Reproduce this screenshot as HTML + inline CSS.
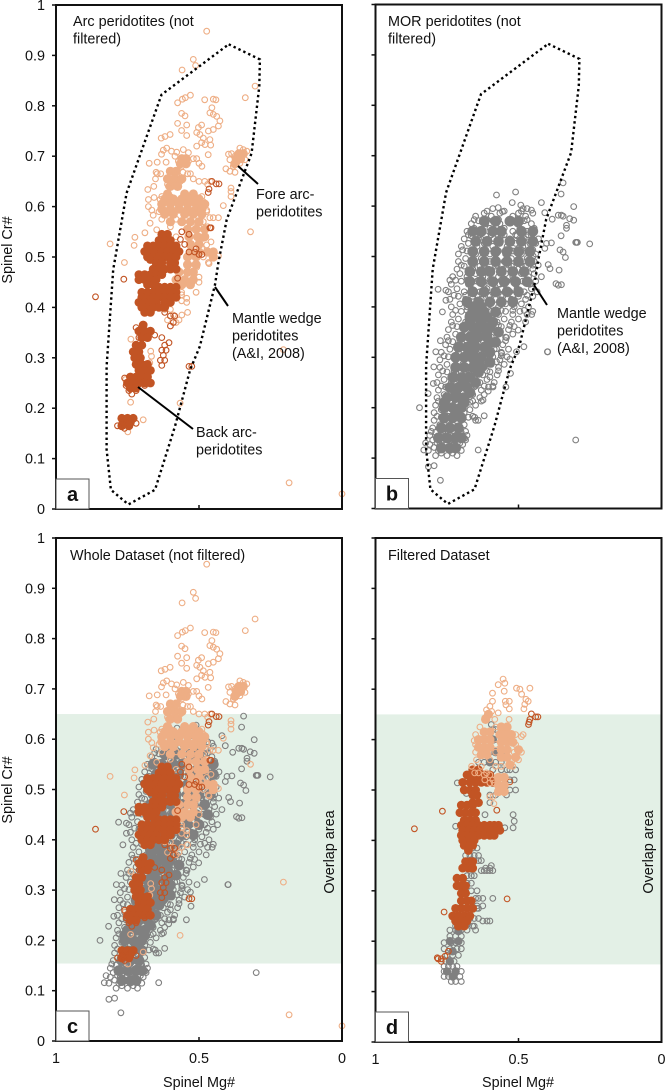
<!DOCTYPE html>
<html lang="en">
<head>
<meta charset="utf-8">
<title>Spinel Cr# vs Mg# peridotite panels</title>
<style>
html,body{margin:0;padding:0;background:#fff;}
svg{display:block;font-family:"Liberation Sans",Arial,sans-serif;font-size:14.4px;fill:#111;}
</style>
</head>
<body>
<svg id="chart" xmlns="http://www.w3.org/2000/svg" width="665" height="1090" viewBox="0 0 665 1090"></svg>
<script>
// Every row below: first number is Cr#, the remaining numbers are Mg# values read at that Cr#.
const arcLightRings=[
[.948,.473],[.892,.52],[.88,.512],[.871,.559],[.839,.304],[.816,.338,.548],[.821,.53],[.813,.558,.45],[.806,.575],[.812,.48,.441],
[.796,.455],[.786,.462],[.783,.45],[.779,.438],[.77,.427],[.76,.432],[.753,.45],[.75,.467],[.785,.561],[.78,.549],[.765,.575],[.762,.543,.491],[.751,.561],[.741,.543],
[.757,.502],[.747,.508],[.743,.497,.601],[.736,.485,.632],[.733,.462],[.72,.508],[.727,.491],[.723,.479],[.722,.459],[.739,.619],[.716,.613],[.712,.625],[.704,.631],
[.71,.596],[.708,.578],[.713,.555],[.707,.537],[.686,.674],[.688,.646,.615],[.7,.584],[.69,.572,.561,.55,.537],[.695,.549,.52,.508],[.68,.561,.49],[.686,.55,.5],
[.704,.397],[.705,.386],[.716,.357],[.713,.345],[.71,.333],[.706,.362],[.7,.374],[.693,.339,.351,.392],[.687,.368],[.68,.38],[.686,.357],[.675,.406],[.67,.392],[.668,.374],
[.703,.468],[.665,.646,.634,.6,.578,.54,.53],[.668,.65,.59,.556],[.655,.652,.575,.52],[.64,.658,.607],[.634,.679],[.65,.595,.565,.5,.48,.46],[.644,.61,.595,.47],[.637,.388],[.63,.388],[.62,.388],
[.614,.677,.636],[.618,.657],[.6,.677,.485],[.61,.485],[.593,.665,.473],[.602,.415],[.583,.66],[.578,.462,.45,.432],[.59,.473],[.567,.671],[.57,.485],[.557,.497],[.554,.648],[.548,.689],[.55,.32],
[.526,.811],[.539,.724],[.523,.727],[.489,.761,.467],[.53,.458],[.502,.432],[.537,.485],[.524,.473],[.517,.491],[.507,.462],[.5,.485],[.48,.508],[.487,.465],
[.62,.63,.6,.52,.49],[.59,.64,.59,.55,.5],[.575,.63,.58,.52],[.56,.6,.52,.47],[.54,.58,.5],[.46,.5,.53],[.45,.5,.56,.54],
[.447,.537],[.43,.561,.59,.51],[.425,.561],[.418,.543],[.413,.561],[.41,.543],[.396,.62,.6],[.385,.59,.56],[.375,.61,.57],[.39,.54],[.37,.58],
[.337,.738],[.316,.205],[.313,.669],[.303,.666],[.29,.672],[.257,.757],[.212,.739],[.21,.566],[.177,.695],[.153,.749],[.052,.185],[.03,.0]];
const arcLightDense=[
[.695,.56,.545],[.685,.565,.545],[.67,.6,.58],[.655,.61,.585,.56],[.64,.6,.575],[.625,.61,.55,.52],[.615,.62,.59,.56,.53,.5],[.605,.63,.6,.57,.54,.51,.48],[.595,.63,.6,.57,.54,.51,.49],[.585,.62,.59,.55,.52,.49],[.57,.6,.56,.53,.5],
[.555,.54,.51,.48],[.54,.535,.505,.48],[.525,.53,.5],[.51,.53,.5,.47,.45],[.5,.54,.51,.45],[.485,.54,.51],[.47,.57,.54,.52],[.455,.58,.55,.52],[.445,.56,.53],[.705,.36,.345],[.695,.37,.355],[.685,.375]];
const arcDarkRings=[
[.65,.455],[.645,.44,.43],[.635,.465],[.628,.468],[.558,.462,.458],[.55,.56],[.545,.535],[.535,.565],[.525,.55],[.51,.535,.515],[.505,.5,.49],[.516,.51],
[.456,.763],[.421,.862],[.458,.575],[.39,.62],[.383,.6,.585],[.37,.59],[.363,.6],[.345,.655],[.34,.63],[.33,.605],[.325,.62],[.315,.615,.63],[.305,.625],[.295,.62,.635],[.285,.63],[.283,.535,.525],
[.36,.72],[.34,.71],[.26,.76],[.245,.755,.69],[.235,.745,.72],[.228,.735],[.18,.755,.73],[.17,.77,.72],[.165,.785,.765],[.175,.74],[.16,.76]];
const arcDarkDense=[
[.545,.63,.61],[.533,.64,.62,.6],[.522,.68,.66,.64,.62,.6,.58],[.511,.69,.67,.65,.63,.61,.59,.57],[.5,.68,.66,.64,.62,.6,.58],[.495,.67,.645],[.488,.65,.63,.6,.585],[.476,.66,.64,.62,.6,.58],
[.465,.71,.69,.67,.65,.63],[.455,.71,.69,.67,.65],[.445,.68,.66],[.44,.64,.62,.6,.58],[.43,.7,.68,.66,.64,.62,.6,.58],[.42,.7,.68,.66,.64,.62,.6,.58],[.41,.71,.69,.67,.65,.62,.6],[.4,.7,.68,.66,.64,.62],[.39,.69,.67],
[.365,.695],[.353,.71,.69,.67],[.34,.7,.68],[.325,.72,.7],[.312,.73,.71],[.3,.725,.705],[.287,.72,.7,.68],[.275,.71,.69,.67],[.262,.74,.72,.7,.68],[.25,.75,.73,.71,.69,.67],[.24,.74,.72],[.18,.77,.75,.73],[.172,.76,.74],[.165,.77,.745]];
const morGreyRings=[
[.136,.3],[.056,.773],[.116,.641],[.085,.795],[.083,.815],[.116,.831],[.2,.846],[.228,.816],[.248,.798],[.281,.796],[.311,.789],[.333,.773],[.39,.766],[.413,.754],[.435,.781],[.433,.754],[.453,.74],
[.622,.577],[.628,.51],[.607,.522,.42],[.597,.571],[.589,.556],[.602,.492],[.595,.484],[.592,.455],[.587,.408],[.646,.344],[.624,.351],[.599,.307],[.582,.361,.35],[.58,.344],[.574,.382],[.575,.321],[.572,.307],[.562,.332],[.556,.332],[.541,.351],[.528,.297,.3,.294],[.525,.251],[.513,.355],[.509,.344],[.498,.336],[.527,.385],[.526,.402],[.516,.408],[.484,.396],[.476,.39],[.473,.358],[.446,.369],[.443,.361],[.444,.35],[.46,.42],[.483,.431],[.501,.449],
[.311,.399,.398],[.321,.481],[.354,.501],[.385,.454],[.296,.53],[.311,.507],[.268,.528],[.241,.544],[.184,.62],[.181,.653],[.175,.641],[.139,.688],[.233,.606],[.215,.624],[.241,.589],[.261,.6],[.291,.577],[.339,.542],[.308,.559],[.317,.577],
[.105,.79,.75,.715],[.11,.77,.73],[.115,.815,.78,.74,.7],[.121,.795,.76,.72],[.13,.825,.785,.75,.705],[.136,.8,.765,.73,.685],[.145,.81,.77,.72,.68],[.151,.79,.745,.7],[.16,.8,.755,.71],[.166,.775,.73,.69],[.175,.795,.75,.7,.65],[.181,.77,.72,.675],
[.19,.795,.74,.69],[.196,.77,.715,.67],[.205,.79,.745,.695,.65],[.211,.765,.72,.67],[.22,.785,.735,.685,.635],[.226,.76,.71,.66,.62],[.235,.78,.73,.68,.63],[.241,.755,.705,.655,.605],
[.25,.785,.735,.685,.635,.585],[.256,.76,.71,.66,.61],[.265,.78,.725,.675,.625,.575],[.271,.75,.7,.65,.6],[.28,.775,.725,.67,.62,.57],[.286,.75,.695,.645,.595,.55],[.295,.775,.72,.665,.615,.565],[.301,.745,.69,.64,.59,.54],
[.31,.77,.71,.66,.61,.56],[.316,.74,.685,.635,.585,.535],[.325,.755,.705,.655,.605,.555],[.331,.73,.68,.63,.58],[.34,.75,.695,.645,.595,.545],[.346,.72,.67,.62,.57,.52],[.355,.745,.69,.64,.585,.535],[.361,.715,.66,.61,.56,.515],
[.37,.735,.685,.63,.575,.525,.475],[.376,.71,.655,.6,.55,.5],[.385,.73,.675,.62,.57,.52,.47],[.391,.7,.65,.595,.545,.495,.45],[.4,.735,.68,.625,.57,.515,.465],[.406,.705,.65,.6,.545,.49],
[.415,.74,.685,.63,.58,.525,.475],[.421,.71,.66,.605,.555,.5,.45],[.43,.745,.69,.635,.585,.53,.48,.435],[.436,.715,.665,.61,.56,.505,.455],[.445,.735,.675,.62,.565,.51,.46],[.451,.7,.645,.59,.54,.485,.44],
[.46,.73,.68,.625,.57,.52,.465],[.466,.705,.65,.6,.545,.49,.445],[.475,.715,.66,.605,.555,.5,.45],[.481,.69,.635,.58,.525,.475],[.49,.71,.655,.6,.55,.495,.445],[.496,.685,.63,.58,.525,.47],
[.505,.71,.65,.6,.545,.49,.44],[.511,.68,.625,.57,.52,.465],[.52,.7,.645,.59,.54,.485],[.526,.675,.62,.565,.51,.46,.44],[.535,.69,.64,.585,.53,.48,.43],[.541,.665,.615,.56,.505,.455],
[.55,.68,.63,.575,.52,.47],[.556,.655,.6,.55,.495,.445],[.565,.665,.615,.565,.505,.455],[.571,.64,.59,.535,.48],[.58,.65,.595,.52,.475],[.586,.62,.565,.5,.45],[.59,.61,.55,.49],[.595,.59,.47],
[.127,.81,.775,.735,.695],[.153,.805,.765,.725,.685],[.183,.785,.745,.705,.66],[.213,.78,.74,.7,.66,.63],[.243,.77,.73,.69,.65,.62,.59],[.273,.765,.725,.685,.645,.61,.57],[.303,.76,.72,.68,.64,.6,.56],[.333,.745,.705,.665,.625,.585,.545],
[.363,.73,.69,.65,.61,.57,.53],[.393,.72,.68,.64,.6,.56,.52,.48],[.423,.725,.685,.645,.6,.56,.52,.47],[.453,.72,.68,.64,.6,.56,.52,.47],[.483,.7,.66,.62,.575,.535,.49,.45],[.513,.695,.655,.615,.575,.53,.49,.45],[.543,.675,.635,.595,.55,.51,.465],[.573,.655,.61,.57,.525,.47]];
const morGreyDense=[
[.12,.77,.74,.72],[.14,.78,.75,.72,.7],[.16,.77,.74,.71],[.18,.76,.73,.7],[.2,.76,.73,.7],[.22,.75,.72,.69],[.24,.74,.71,.68],[.26,.73,.7,.67],[.28,.72,.69,.66,.63],[.3,.72,.69,.66,.63],
[.32,.71,.68,.65,.62],[.34,.7,.67,.64,.61],[.36,.69,.66,.63,.6],[.38,.67,.64,.61],[.4,.66,.63],[.45,.67,.63,.59,.55],[.47,.67,.63,.6,.56],[.49,.66,.62,.58,.54,.5],[.51,.66,.62,.58,.54,.5],[.53,.65,.61,.57,.53,.49],[.55,.63,.59,.56,.49],
[.43,.66,.62,.58,.54,.5],[.41,.68,.64,.6,.56,.52],[.39,.66,.62,.58],[.37,.67,.63,.59],[.35,.65,.61,.57],[.33,.66,.6,.58],[.31,.66,.6],[.29,.64,.6],[.27,.64],[.25,.69,.65],[.23,.72,.67],[.21,.76,.69],[.19,.72],
[.45,.51,.47],[.47,.52,.48],[.49,.46],[.51,.46],[.53,.45],[.55,.66,.45],[.57,.62,.58,.53,.5]];
const filteredGreyRings=[
[.12,.735,.72,.7],[.13,.76,.745,.725,.705],[.14,.76,.74,.72,.7],[.15,.76,.745,.73,.715],[.16,.755,.74,.725],[.172,.75,.73,.71],[.185,.76,.74,.715,.7],[.197,.76,.735,.72,.7],[.21,.74,.72,.7],
[.222,.74,.72,.7,.68,.65],[.23,.72,.69,.66,.655],[.24,.625,.61,.6],[.245,.695,.67,.655,.64],[.265,.66,.645,.64],[.27,.645,.625],[.285,.65,.64,.625,.59],[.3,.665,.645],[.315,.665,.68],[.33,.665,.68,.655],
[.34,.63,.62,.61,.6,.59],[.345,.615,.6],[.35,.595],[.36,.68,.655,.66,.64,.63],[.37,.685,.67,.655,.64],[.385,.66,.645],
[.63,.595],[.62,.59,.58],[.6,.61,.59,.58],[.575,.6,.58,.56],[.555,.64,.62,.6,.58,.56],[.54,.59,.56,.54,.53],[.52,.53,.515],[.54,.51],[.5,.51,.53],[.49,.6,.58,.542],[.475,.6],
[.451,.519,.617],[.438,.515],[.425,.519,.548],[.428,.72],[.514,.714],[.493,.682]];
const filteredGreyDense=[
[.13,.73],[.14,.75,.72],[.16,.74],[.18,.73],[.2,.74,.71],[.22,.71],[.235,.68],[.36,.665],[.6,.59],[.575,.58],[.555,.6]];
const filteredLightRings=[
[.72,.554],[.709,.571],[.712,.548],[.696,.55],[.692,.591],[.702,.507,.46],[.7,.495],[.69,.489],[.68,.474],[.676,.466,.546,.532,.591],[.661,.481,.532],[.67,.478],[.669,.544],[.653,.571],[.666,.6],[.659,.612],[.656,.594],[.65,.606],[.643,.618],[.64,.583,.533],
[.625,.635,.58],[.61,.484,.65,.51],[.606,.49],[.598,.655,.53],[.59,.65,.58,.51],[.575,.65,.58,.515,.49],[.56,.647,.6,.52,.5],[.547,.664,.63,.58,.56,.52],[.534,.653,.64,.612],[.53,.62,.6],[.52,.618,.59],[.514,.6,.585],[.487,.589,.6],[.473,.586]];
const filteredLightDense=[
[.65,.605],[.64,.615],[.615,.62,.6],[.6,.64,.62,.6],[.585,.64,.62,.6],[.57,.63,.61],[.625,.56,.54],[.61,.565,.545,.525],[.595,.56,.54,.52],[.58,.56,.54,.5],[.565,.56,.54,.51],[.55,.53],[.525,.57,.55],[.51,.57,.55],[.497,.57,.55]];
const filteredDarkRings=[
[.423,.864],[.458,.766],[.284,.54],[.46,.576],[.516,.53],[.651,.455],[.645,.44,.432],[.64,.46],[.635,.463],[.63,.465],[.258,.76],[.165,.781,.77],[.17,.757],[.18,.745],[.167,.784],[.16,.77]];
const filteredDarkDense=[
[.54,.66,.64],[.53,.68,.66,.64,.62,.6],[.515,.695,.67,.65,.63,.61,.59],[.5,.69,.67,.65],[.49,.66,.645],[.475,.66,.64],[.47,.7,.68,.66],[.455,.705,.685,.665,.65],[.44,.69,.67,.65],
[.43,.7,.68,.66,.64,.62,.6,.585,.57],[.42,.695,.675,.655,.635,.615,.595,.58,.565],[.41,.7,.68,.66,.64,.62,.6,.585],[.4,.695,.675,.655],[.39,.69,.67,.66],[.38,.675],
[.358,.685,.67,.66],[.345,.695,.675,.66],[.325,.715,.695],[.31,.715,.7,.685],[.295,.7,.685],[.28,.7,.68,.665],[.265,.72,.7,.68,.66],[.25,.73,.71,.69,.67],[.24,.72,.7,.68],[.23,.71,.69]];
const wedgeOutlineMg=[.396,.287,.289,.316,.403,.432,.444,.497,.531,.584,.654,.747,.808,.823,.823,.8,.753,.631];
const wedgeOutlineCr=[.922,.892,.839,.706,.574,.489,.445,.323,.276,.164,.038,.009,.038,.118,.283,.475,.627,.822];
const crTicks=[0,.1,.2,.3,.4,.5,.6,.7,.8,.9,1];
const crTickLabels=['0','0.1','0.2','0.3','0.4','0.5','0.6','0.7','0.8','0.9','1'];
const mgTicks=[1,.5,0];
const mgTickLabels=['1','0.5','0'];
const overlapCrRange=[.154,.65];

const NS='http://www.w3.org/2000/svg';
const svg=document.getElementById('chart');
const COLORS={light:'#eeae85',dark:'#c25424',grey:'#808080'};
function make(tag,attrs,parent){
  const el=document.createElementNS(NS,tag);
  for(const k in attrs){el.setAttribute(k,attrs[k]);}
  parent.appendChild(el);
  return el;
}
function xScale(p,mg){return p.left+(1-mg)*p.width;}
function yScale(p,cr){return p.bottom-cr*p.height;}
function drawSeries(p,rows,color,denseRadius,name){
  const g=make('g',{},svg);
  
  
  rows.forEach(function(row){
    for(let i=1;i<row.length;i++){
      const c=make('circle',{cx:xScale(p,row[i]).toFixed(1),cy:yScale(p,row[0]).toFixed(1),r:denseRadius||2.85,
        fill:denseRadius?color:'none',stroke:denseRadius?'none':color,'stroke-width':1.1},g);
      
      
    }
  });
}
function drawAxes(p){
  const frame=make('rect',{x:p.left,y:yScale(p,1),width:p.width,height:p.height,fill:'none',stroke:'#111','stroke-width':2},svg);
  
  
  crTicks.forEach(function(v,i){
    const y=yScale(p,v);
    const t=make('line',{x1:p.left-4,x2:p.left,y1:y,y2:y,stroke:'#111','stroke-width':1.5},svg);
    
    
    if(p.showY){
      const l=make('text',{x:p.left-11,y:y+5,'text-anchor':'end'},svg);
      l.textContent=crTickLabels[i];
      
      
    }
  });
  mgTicks.forEach(function(v,i){
    const x=xScale(p,v);
    const t=make('line',{x1:x,x2:x,y1:p.bottom,y2:p.bottom-4,stroke:'#111','stroke-width':1.5},svg);
    
    
    if(p.showX){
      const l=make('text',{x:x,y:p.bottom+22,'text-anchor':'middle'},svg);
      l.textContent=mgTickLabels[i];
      
      
    }
  });
  const box=make('rect',{x:p.left,y:p.bottom-30,width:33,height:30,fill:'#fff',stroke:'#555','stroke-width':1},svg);
  
  
  const letter=make('text',{x:p.left+16.5,y:p.bottom-8,'text-anchor':'middle','font-weight':'bold','font-size':'20px'},svg);
  letter.textContent=p.id;
  
  
}
function drawOverlap(p){
  const top=yScale(p,overlapCrRange[1]);
  const r=make('rect',{x:p.left,y:top,width:p.width,height:yScale(p,overlapCrRange[0])-top,fill:'#e3f0e6'},svg);
  
  
}
function drawOutline(p){
  const pts=wedgeOutlineMg.map(function(m,i){return xScale(p,m).toFixed(1)+','+yScale(p,wedgeOutlineCr[i]).toFixed(1);}).join(' ');
  const o=make('polygon',{points:pts,fill:'none',stroke:'#000','stroke-width':2.4,'stroke-dasharray':'2.4 3'},svg);
  
  
}
function label(lines,x,y,lh,name){
  const t=make('text',{x:x,y:y},svg);
  
  
  lines.forEach(function(s,i){
    const ts=make('tspan',{x:x,y:y+i*lh},t);
    ts.textContent=s;
  });
}
function rotated(text,x,y,name){
  const t=make('text',{transform:'translate('+x+' '+y+') rotate(-90)','text-anchor':'middle'},svg);
  t.textContent=text;
  
  
}
function pointer(x1,y1,x2,y2,name){
  const l=make('line',{x1:x1,y1:y1,x2:x2,y2:y2,stroke:'#000','stroke-width':2},svg);
  
  
}
const panelA={id:'a',left:56,width:286,bottom:509,height:504,showY:true,showX:false};
const panelB={id:'b',left:375.5,width:286,bottom:508.5,height:504,showY:false,showX:false};
const panelC={id:'c',left:56,width:286,bottom:1041,height:503,showY:true,showX:true};
const panelD={id:'d',left:375.5,width:286,bottom:1042,height:504,showY:false,showX:true};
const LIGHT_R=4.6, DARK_R=4.4, GREY_R=5.4, FILTERED_GREY_R=4.2;

// panel a
drawSeries(panelA,arcLightDense,COLORS.light,LIGHT_R,'arc-light-dense-series');
drawSeries(panelA,arcLightRings,COLORS.light,0,'arc-light-series');
drawSeries(panelA,arcDarkDense,COLORS.dark,DARK_R,'arc-dark-dense-series');
drawSeries(panelA,arcDarkRings,COLORS.dark,0,'arc-dark-series');
drawOutline(panelA);
drawAxes(panelA);
label(['Arc peridotites (not','filtered)'],73,26,17.5,'panel-a-title');
label(['Fore arc-','peridotites'],256,199,17.5,'fore-arc-label');
label(['Mantle wedge','peridotites','(A&I, 2008)'],232,323,17.5,'mantle-wedge-label');
label(['Back arc-','peridotites'],196,437,17.5,'back-arc-label');
pointer(238,166,258,184,'fore-arc-pointer');
pointer(215,287,228,306,'mantle-wedge-pointer');
pointer(138,387,193,429,'back-arc-pointer');
rotated('Spinel Cr#',12,250,'y-axis-title-a');

// panel b
drawSeries(panelB,morGreyDense,COLORS.grey,GREY_R,'mor-grey-dense-series');
drawSeries(panelB,morGreyRings,COLORS.grey,0,'mor-grey-series');
drawOutline(panelB);
drawAxes(panelB);
label(['MOR peridotites (not','filtered)'],388,26,17.5,'panel-b-title');
label(['Mantle wedge','peridotites','(A&I, 2008)'],557,318,17.5,'mantle-wedge-label-b');
pointer(534,285,547,305,'mantle-wedge-pointer-b');

// panel c
drawOverlap(panelC);
drawSeries(panelC,morGreyDense,COLORS.grey,GREY_R,'whole-grey-dense-series');
drawSeries(panelC,morGreyRings,COLORS.grey,0,'whole-grey-series');
drawSeries(panelC,arcLightDense,COLORS.light,LIGHT_R,'whole-light-dense-series');
drawSeries(panelC,arcLightRings,COLORS.light,0,'whole-light-series');
drawSeries(panelC,arcDarkDense,COLORS.dark,DARK_R,'whole-dark-dense-series');
drawSeries(panelC,arcDarkRings,COLORS.dark,0,'whole-dark-series');
drawAxes(panelC);
label(['Whole Dataset (not filtered)'],70,560,17.5,'panel-c-title');
rotated('Overlap area',334,852,'overlap-area-label-c');
rotated('Spinel Cr#',12,790,'y-axis-title-c');

// panel d
drawOverlap(panelD);
drawSeries(panelD,filteredGreyDense,COLORS.grey,FILTERED_GREY_R,'filtered-grey-dense-series');
drawSeries(panelD,filteredGreyRings,COLORS.grey,0,'filtered-grey-series');
drawSeries(panelD,filteredDarkDense,COLORS.dark,DARK_R,'filtered-dark-dense-series');
drawSeries(panelD,filteredDarkRings,COLORS.dark,0,'filtered-dark-series');
drawSeries(panelD,filteredLightDense,COLORS.light,LIGHT_R,'filtered-light-dense-series');
drawSeries(panelD,filteredLightRings,COLORS.light,0,'filtered-light-series');
drawAxes(panelD);
label(['Filtered Dataset'],388,560,17.5,'panel-d-title');
rotated('Overlap area',653,852,'overlap-area-label-d');
[[199,'x-axis-title-c'],[518,'x-axis-title-d']].forEach(function(a){
  const t=make('text',{x:a[0],y:1087,'text-anchor':'middle'},svg);
  t.textContent='Spinel Mg#';
  
  
});
</script>
</body>
</html>
